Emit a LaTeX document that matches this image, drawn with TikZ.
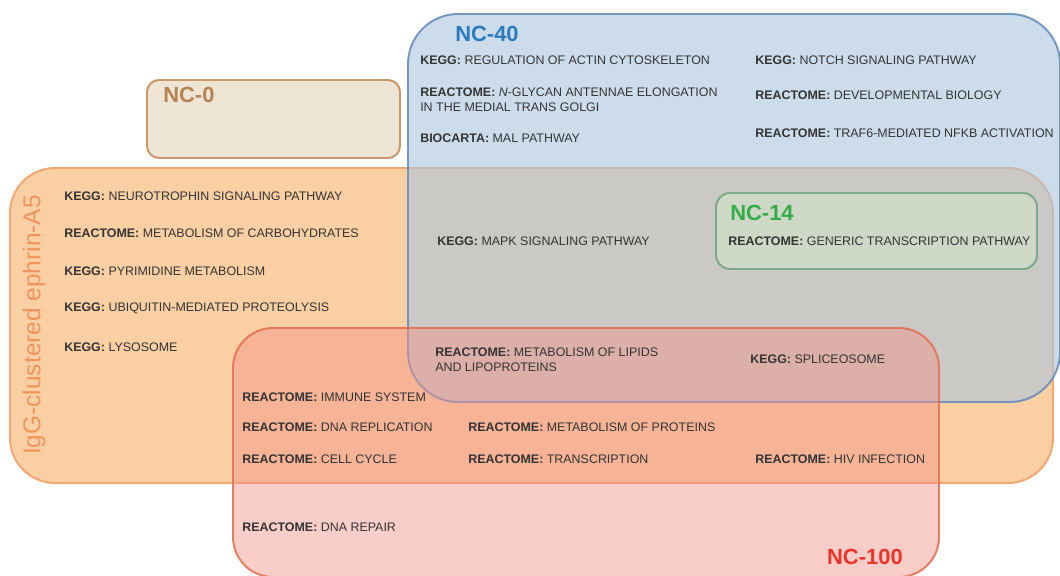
\documentclass[tikz,border=0pt]{standalone}
\usepackage{fontspec}
\setmainfont{Liberation Sans}
\usetikzlibrary{positioning}

\definecolor{ncorange}{RGB}{249,207,163}
\definecolor{ncorangeline}{RGB}{242,166,112}
\definecolor{ncblue}{RGB}{172,197,222}
\definecolor{ncblueline}{RGB}{104,142,190}
\definecolor{ncred}{RGB}{244,146,134}
\definecolor{ncredline}{RGB}{229,112,82}
\definecolor{nctan}{RGB}{238,229,213}
\definecolor{nctanline}{RGB}{201,151,104}
\definecolor{ncgreen}{RGB}{206,216,198}
\definecolor{ncgreenline}{RGB}{124,170,134}
\definecolor{txtgray}{RGB}{52,52,52}
\definecolor{titleblue}{RGB}{42,122,190}
\definecolor{titlebrown}{RGB}{181,131,82}
\definecolor{titlegreen}{RGB}{52,172,74}
\definecolor{titlered}{RGB}{236,52,40}
\definecolor{titleorange}{RGB}{240,148,92}

\tikzset{
  pathway/.style={font=\fontsize{8.85}{10.7}\selectfont,text=txtgray,anchor=west,inner sep=0pt,align=left},
  nctitle/.style={font=\fontsize{15.6}{18}\selectfont\bfseries,inner sep=0pt}
}

\begin{document}
\begin{tikzpicture}
\useasboundingbox (0,0) rectangle (26.5,14.375);
\clip (0,0) rectangle (26.5,14.375);

% sets
\draw[fill=ncorange,draw=ncorangeline,line width=1.4pt,rounded corners=1.125cm] (0.25,2.3) rectangle (26.325,10.175);
\draw[fill=ncblue,fill opacity=0.6,draw=ncblueline,draw opacity=0.9,line width=1.4pt,rounded corners=1.25cm] (10.2,4.325) rectangle (26.5,14.025);
\draw[fill=ncred,fill opacity=0.45,draw=ncredline,draw opacity=0.9,line width=1.4pt,rounded corners=1cm] (5.825,-0.05) rectangle (23.475,6.175);
\draw[fill=nctan,draw=nctanline,line width=1.4pt,rounded corners=0.3cm] (3.675,10.425) rectangle (10.0,12.375);
\draw[fill=ncgreen,draw=ncgreenline,line width=1.4pt,rounded corners=0.35cm] (17.9,7.65) rectangle (25.925,9.55);

% set titles
\node[nctitle,text=titleblue,anchor=west] (nc40) at (11.375,13.525) {NC-40};
\node[nctitle,text=titlebrown,anchor=west] (nc0) at (4.075,12.0) {NC-0};
\node[nctitle,text=titlegreen,anchor=west] (nc14) at (18.25,9.05) {NC-14};
\node[nctitle,text=titlered,anchor=east] (nc100) at (22.575,0.45) {NC-100};
\node[font=\fontsize{17.4}{20}\selectfont,text=titleorange,rotate=90,inner sep=0pt] (igg) at (0.85,6.25) {IgG-clustered ephrin-A5};

% NC-40 only
\node[pathway] (actin) at (10.5,12.875) {\textbf{KEGG:} REGULATION OF ACTIN CYTOSKELETON};
\node[pathway] (glycan) at (10.5,11.8875) {\textbf{REACTOME:} \textit{N}-GLYCAN ANTENNAE ELONGATION\\IN THE MEDIAL TRANS GOLGI};
\node[pathway] (mal) at (10.5,10.925) {\textbf{BIOCARTA:} MAL PATHWAY};
\node[pathway] (notch) at (18.875,12.875) {\textbf{KEGG:} NOTCH SIGNALING PATHWAY};
\node[pathway] (devbio) at (18.875,12.0) {\textbf{REACTOME:} DEVELOPMENTAL BIOLOGY};
\node[pathway] (traf) at (18.875,11.05) {\textbf{REACTOME:} TRAF6-MEDIATED NFKB ACTIVATION};

% IgG only
\node[pathway] (neuro) at (1.6,9.475) {\textbf{KEGG:} NEUROTROPHIN SIGNALING PATHWAY};
\node[pathway] (carbo) at (1.6,8.55) {\textbf{REACTOME:} METABOLISM OF CARBOHYDRATES};
\node[pathway] (pyri) at (1.6,7.6) {\textbf{KEGG:} PYRIMIDINE METABOLISM};
\node[pathway] (ubiq) at (1.6,6.675) {\textbf{KEGG:} UBIQUITIN-MEDIATED PROTEOLYSIS};
\node[pathway] (lyso) at (1.6,5.7) {\textbf{KEGG:} LYSOSOME};

% overlaps
\node[pathway] (mapk) at (10.925,8.35) {\textbf{KEGG:} MAPK SIGNALING PATHWAY};
\node[pathway] (generic) at (18.2,8.35) {\textbf{REACTOME:} GENERIC TRANSCRIPTION PATHWAY};
\node[pathway] (lipids) at (10.875,5.3875) {\textbf{REACTOME:} METABOLISM OF LIPIDS\\AND LIPOPROTEINS};
\node[pathway] (splice) at (18.75,5.4) {\textbf{KEGG:} SPLICEOSOME};

% NC-100
\node[pathway] (immune) at (6.05,4.45) {\textbf{REACTOME:} IMMUNE SYSTEM};
\node[pathway] (dnarep) at (6.05,3.7) {\textbf{REACTOME:} DNA REPLICATION};
\node[pathway] (protein) at (11.7,3.7) {\textbf{REACTOME:} METABOLISM OF PROTEINS};
\node[pathway] (cycle) at (6.05,2.9) {\textbf{REACTOME:} CELL CYCLE};
\node[pathway] (transc) at (11.7,2.9) {\textbf{REACTOME:} TRANSCRIPTION};
\node[pathway] (hiv) at (18.875,2.9) {\textbf{REACTOME:} HIV INFECTION};
\node[pathway] (repair) at (6.05,1.2) {\textbf{REACTOME:} DNA REPAIR};

\end{tikzpicture}
\end{document}
